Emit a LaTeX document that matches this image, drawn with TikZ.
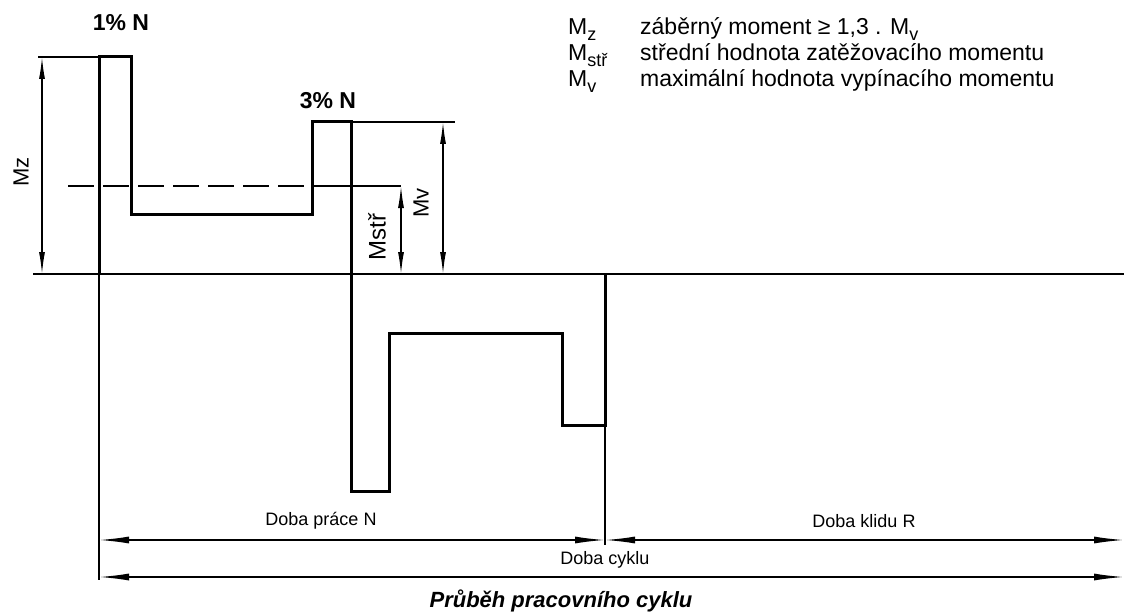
\documentclass[tikz,border=0pt]{standalone}
\usepackage{fontspec}
\setmainfont{Liberation Sans}
\usetikzlibrary{arrows.meta}
\newcommand{\lsub}[1]{\raisebox{-0.22em}{\fontsize{18}{20}\selectfont #1}}
\begin{document}
\begin{tikzpicture}[x=1pt,y=-1pt,
  wave/.style={line width=3pt,line join=miter},
  thin/.style={line width=1.3pt},
  dimv/.style={line width=1.3pt,{Latex[length=22pt,width=6pt]}-{Latex[length=22pt,width=6pt]}},
  dimh/.style={line width=1.5pt,{Latex[length=30pt,width=7pt]}-{Latex[length=30pt,width=7pt]}},
  hand/.style={font=\fontsize{22}{26}\selectfont},
  handb/.style={font=\fontsize{23}{26}\selectfont\bfseries},
  txt/.style={font=\fontsize{18}{22}\selectfont},
  leg/.style={font=\fontsize{23}{26}\selectfont,anchor=base west,inner sep=0pt}]
\useasboundingbox (0,0) rectangle (1124,615);
% coordinates
\coordinate (w0) at (99,274);
\coordinate (w1) at (99,57);
\coordinate (w2) at (131,57);
\coordinate (w3) at (131,214);
\coordinate (w4) at (312,214);
\coordinate (w5) at (312,122);
\coordinate (w6) at (351,122);
\coordinate (w7) at (351,491);
\coordinate (w8) at (389,491);
\coordinate (w9) at (389,333);
\coordinate (w10) at (562,333);
\coordinate (w11) at (562,425);
\coordinate (w12) at (605,425);
\coordinate (w13) at (605,274);
\coordinate (axL) at (33,274);
\coordinate (axR) at (1124,274);
% axis
\draw[thin] (axL) -- (axR);
% waveform
\draw[wave] (w0) -- (w1) -- (w2) -- (w3) -- (w4) -- (w5) -- (w6) -- (w7) -- (w8) -- (w9) -- (w10) -- (w11) -- (w12) -- (w13);
% Mz dimension
\coordinate (mzExt) at (38,57);
\coordinate (mzT) at (42,57);
\coordinate (mzB) at (42,274);
\draw[thin] (mzExt) -- (w1);
\draw[dimv] (mzT) -- (mzB);
\node[hand,rotate=90] (mz) at (21,172) {Mz};
% mean value (dashed)
\coordinate (dA) at (68,186);
\coordinate (dB) at (312,186);
\coordinate (dC) at (401,186);
\coordinate (dD) at (401,274);
\draw[thin,dash pattern=on 26pt off 9pt] (dA) -- (dB);
\draw[thin] (dB) -- (dC);
\draw[dimv] (dC) -- (dD);
\node[font=\fontsize{24}{26}\selectfont,rotate=90] (mstr) at (377,237) {Mstř};
% Mv dimension
\coordinate (mvExt) at (455,122);
\coordinate (mvT) at (443,122);
\coordinate (mvB) at (443,274);
\draw[thin] (w6) -- (mvExt);
\draw[dimv] (mvT) -- (mvB);
\node[hand,rotate=90] (mv) at (421,203) {Mv};
% labels of peaks
\node[handb] (p1) at (121,23) {1\% N};
\node[handb] (p3) at (328,101) {3\% N};
% extension lines
\coordinate (eL) at (99,580);
\coordinate (eM) at (605,545);
\draw[thin] (w0) -- (eL);
\draw[thin] (w12) -- (eM);
% time dimensions
\coordinate (t1L) at (99,540);
\coordinate (t1M) at (605,540);
\coordinate (t1R) at (1124,540);
\coordinate (t2L) at (99,577);
\coordinate (t2R) at (1124,577);
\draw[dimh] (t1L) -- (t1M);
\draw[dimh] (t1M) -- (t1R);
\draw[dimh] (t2L) -- (t2R);
\node[txt] (dp) at (321,521) {Doba práce N};
\node[txt] (dk) at (864,521) {Doba klidu R};
\node[txt] (dc) at (605,560) {Doba cyklu};
\node[font=\fontsize{22}{26}\selectfont\bfseries\itshape] (title) at (561,601) {Průběh pracovního cyklu};
% legend
\node[leg] (l1a) at (568,35) {M\lsub{z}};
\node[leg] (l1b) at (640,35) {záběrný moment ≥ 1,3 . M\lsub{v}};
\node[leg] (l2a) at (568,61) {M\lsub{stř}};
\node[leg] (l2b) at (640,61) {střední hodnota zatěžovacího momentu};
\node[leg] (l3a) at (568,87) {M\lsub{v}};
\node[leg] (l3b) at (640,87) {maximální hodnota vypínacího momentu};
\end{tikzpicture}
\end{document}
